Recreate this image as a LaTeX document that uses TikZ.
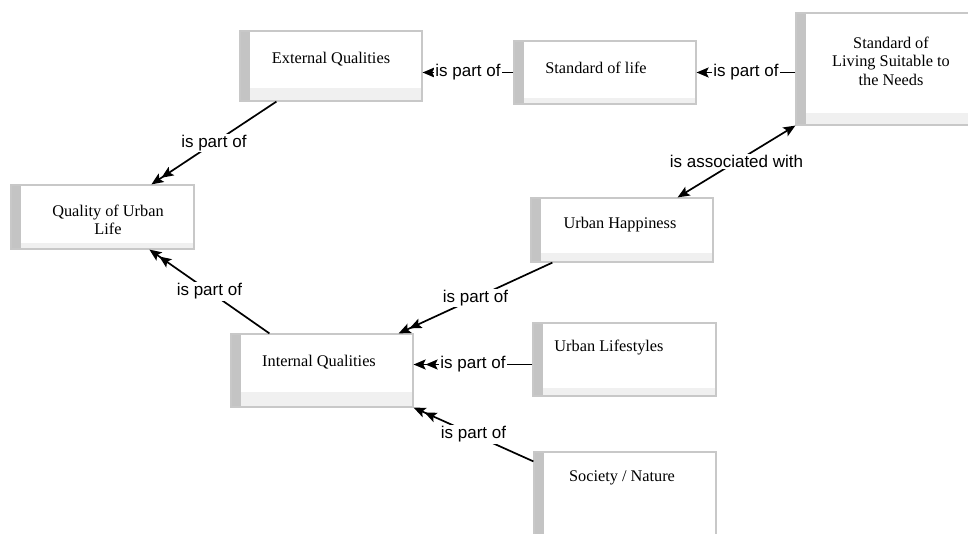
\documentclass[tikz,border=0pt]{standalone}
\usepackage{fontspec}
\setmainfont{Liberation Serif}
\newfontfamily\lblfont{Liberation Sans}
\usetikzlibrary{arrows.meta}
\definecolor{bordc}{HTML}{C8C8C8}
\definecolor{stripec}{HTML}{C4C4C4}
\definecolor{bandc}{HTML}{F0F0F0}
\begin{document}
\begin{tikzpicture}[x=1pt,y=-1pt,
  bandh/.store in=\cbandh, bandh=10pt,
  cbox/.style={draw=bordc, line width=1.2pt, fill=white, rectangle, inner sep=0pt,
    path picture={
      \fill[stripec] (path picture bounding box.south west) rectangle ([xshift=10pt]path picture bounding box.north west);
      \fill[bandc] ([xshift=10pt]path picture bounding box.south west) rectangle ([yshift=\cbandh]path picture bounding box.south east);
    }},
  btext/.style={align=center, inner sep=0pt, font=\fontsize{16.3}{18.5}\selectfont},
  lbl/.style={fill=white, inner sep=1.5pt, font=\lblfont\fontsize{17}{18}\selectfont},
  conn/.style={line width=1.7pt, draw=black},
  tipA/.tip={Stealth[length=12pt,width=10pt,inset=2.5pt]},
  one/.style={conn, -tipA},
  two/.style={conn, -{tipA[]tipA[]}},
  both/.style={conn, tipA-tipA}
]
\useasboundingbox (0,0) rectangle (968,534);
\fill[white] (0,0) rectangle (968,534);

% boxes
\node[cbox, bandh=13pt, minimum width=182pt, minimum height=70pt] (ext) at (331,66) {};
\node[cbox, bandh=6pt, minimum width=182pt, minimum height=63pt] (stdlife) at (605,72.5) {};
\node[cbox, bandh=12pt, minimum width=173pt, minimum height=112pt] (stdliv) at (882.5,69) {};
\node[cbox, bandh=6pt, minimum width=183pt, minimum height=64pt] (qual) at (102.5,217) {};
\node[cbox, bandh=9pt, minimum width=182pt, minimum height=64pt] (uh) at (622,230) {};
\node[cbox, bandh=15pt, minimum width=182pt, minimum height=73pt] (intq) at (322,370.5) {};
\node[cbox, bandh=8pt, minimum width=183pt, minimum height=73pt] (ul) at (624.5,359.5) {};
\node[cbox, bandh=0pt, minimum width=182pt, minimum height=88pt] (soc) at (625,496) {};

% texts
\node[btext] (ext-t) at (331,59) {External Qualities};
\node[btext] (stdlife-t) at (596,68) {Standard of life};
\node[btext] (stdliv-t) at (891,61) {Standard of\\Living Suitable to\\the Needs};
\node[btext] (qual-t) at (108,220) {Quality of Urban\\Life};
\node[btext] (uh-t) at (620,225) {Urban Happiness};
\node[btext] (intq-t) at (319,362) {Internal Qualities};
\node[btext] (ul-t) at (609,348) {Urban Lifestyles};
\node[btext] (soc-t) at (622,478) {Society / Nature};

% connectors
\draw[one] (stdliv.west |- stdlife.east) -- node[lbl] {is part of} (stdlife.east);
\draw[one] (stdlife.west) -- node[lbl] {is part of} (stdlife.west -| ext.east);
\draw[two] ([xshift=37pt]ext.south west) -- node[lbl] {is part of} ([xshift=141pt]qual.north west);
\draw[two] ([xshift=39pt]intq.north west) -- node[lbl] {is part of} ([xshift=139pt]qual.south west);
\draw[two] ([xshift=22pt]uh.south west) -- node[lbl] {is part of} ([xshift=-15pt]intq.north east);
\draw[two] ([yshift=-5pt]ul.west) -- node[lbl] {is part of} ([yshift=-5pt]ul.west -| intq.east);
\draw[two] ([yshift=-10pt]soc.north west) -- node[lbl] {is part of} (intq.south east);
\draw[both] ([xshift=-36pt]uh.north east) -- node[lbl] {is associated with} (stdliv.south west);
\end{tikzpicture}
\end{document}
